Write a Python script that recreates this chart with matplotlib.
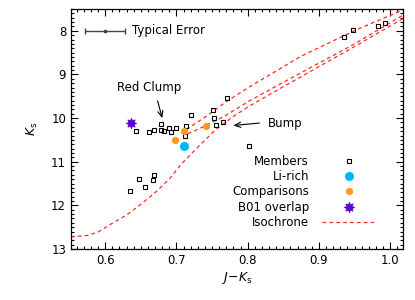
import matplotlib
matplotlib.use("Agg")
import matplotlib.pyplot as plt
from matplotlib.ticker import MultipleLocator

plt.rcParams['font.family'] = ['DejaVu Sans']
plt.rcParams['mathtext.fontset'] = 'dejavusans'

# Members (open squares)
mem_jk = [0.935, 0.948, 0.983, 0.993, 0.771, 0.752, 0.753, 0.756, 0.766, 0.720,
          0.714, 0.712, 0.700, 0.692, 0.689, 0.682, 0.678, 0.678, 0.668, 0.662,
          0.643, 0.802, 0.647, 0.668, 0.667, 0.656, 0.635]
mem_k = [8.14, 7.98, 7.89, 7.82, 9.53, 9.81, 10.00, 10.15, 10.08, 9.94,
         10.18, 10.41, 10.23, 10.32, 10.22, 10.29, 10.14, 10.28, 10.27, 10.31,
         10.30, 10.64, 11.39, 11.30, 11.43, 11.59, 11.67]

# Li-rich giant
li_jk = [0.710]
li_k = [10.64]

# Comparison stars
comp_jk = [0.711, 0.741, 0.698]
comp_k = [10.29, 10.17, 10.50]

# B01 overlap
b01_jk = [0.636]
b01_k = [10.12]

# Isochrone branches
rgb_jk = [0.552, 0.575, 0.590, 0.607, 0.630, 0.649, 0.672, 0.691, 0.707, 0.728,
          0.754, 0.780, 0.803, 0.850, 0.900, 0.950, 1.018]
rgb_k = [12.72, 12.69, 12.61, 12.44, 12.22, 11.99, 11.68, 11.38, 11.05, 10.70,
         10.28, 9.96, 9.72, 9.28, 8.82, 8.36, 7.72]
br2_jk = [0.716, 0.735, 0.768, 0.803, 0.850, 0.900, 0.950, 1.018]
br2_k = [10.36, 10.22, 9.95, 9.60, 9.18, 8.74, 8.30, 7.64]
br1_jk = [0.714, 0.740, 0.772, 0.803, 0.874, 0.952, 1.018]
br1_k = [10.26, 9.98, 9.60, 9.28, 8.59, 7.98, 7.52]

# Typical error
err_jk, err_k, err_x = 0.600, 8.0, 0.028

fs = 8.5
red = '#FF2A2A'
dash = (0, (3, 2.5))

fig = plt.figure(figsize=(4.15, 3.0), dpi=100)
ax = fig.add_axes([71 / 415, 51 / 300, 332 / 415, 240 / 300])

ax.plot(mem_jk, mem_k, 's', mfc='none', mec='black', ms=3.5, mew=0.8, label='Members', zorder=3)
ax.plot(li_jk, li_k, 'o', color='#00B4FF', ms=5.5, label='Li-rich', zorder=4)
ax.plot(comp_jk, comp_k, 'o', color='#FF9A1A', ms=4.2, label='Comparisons', zorder=4)
ax.plot(b01_jk, b01_k, marker=(8, 1, 0), ls='none', color='#5A00D0', ms=7.5, mew=0.6,
        label='B01 overlap', zorder=4)
ax.plot(rgb_jk, rgb_k, color=red, lw=0.9, ls=dash, label='Isochrone', zorder=2)
ax.plot(br2_jk, br2_k, color=red, lw=0.9, ls=dash, zorder=2)
ax.plot(br1_jk, br1_k, color=red, lw=0.9, ls=dash, zorder=2)

ax.errorbar([err_jk], [err_k], xerr=[err_x], fmt='s', color='#444444', ms=2,
            lw=1, capsize=2, capthick=1)
ax.text(0.638, 8.0, 'Typical Error', fontsize=fs, va='center', ha='left')

ax.annotate('Red Clump', xy=(0.680, 10.0), xytext=(0.662, 9.30), fontsize=fs,
            ha='center', va='center',
            arrowprops=dict(arrowstyle='->,head_length=0.5,head_width=0.22',
                            color='black', lw=0.8, relpos=(0.6, 0), shrinkA=3, shrinkB=0))
ax.annotate('Bump', xy=(0.780, 10.17), xytext=(0.829, 10.13), fontsize=fs,
            ha='left', va='center',
            arrowprops=dict(arrowstyle='->,head_length=0.5,head_width=0.22',
                            color='black', lw=0.8, relpos=(0, 0.62), shrinkA=4.5, shrinkB=0))

ax.set_xlim(0.552, 1.018)
ax.set_ylim(13.0, 7.5)
ax.xaxis.set_major_locator(MultipleLocator(0.1))
ax.xaxis.set_minor_locator(MultipleLocator(0.01))
ax.yaxis.set_major_locator(MultipleLocator(1))
ax.yaxis.set_minor_locator(MultipleLocator(0.1))
ax.tick_params(which='both', direction='in', top=True, right=True, labelsize=fs, width=0.8)
ax.tick_params(which='major', length=5)
ax.tick_params(which='minor', length=2.5)
for s in ax.spines.values():
    s.set_linewidth(0.9)

ax.set_xlabel(r'$J\!-\!K_{\rm s}$', fontsize=fs + 0.5, labelpad=2)
ax.set_ylabel(r'$K_{\rm s}$', fontsize=fs + 0.5, labelpad=8)

leg = ax.legend(loc='lower right', bbox_to_anchor=(0.916, 0.083), frameon=False,
                markerfirst=False, numpoints=1, handlelength=4.5, handletextpad=1.1,
                labelspacing=0.2, borderpad=0, borderaxespad=0, fontsize=fs)

fig.savefig('out.png', dpi=100)
